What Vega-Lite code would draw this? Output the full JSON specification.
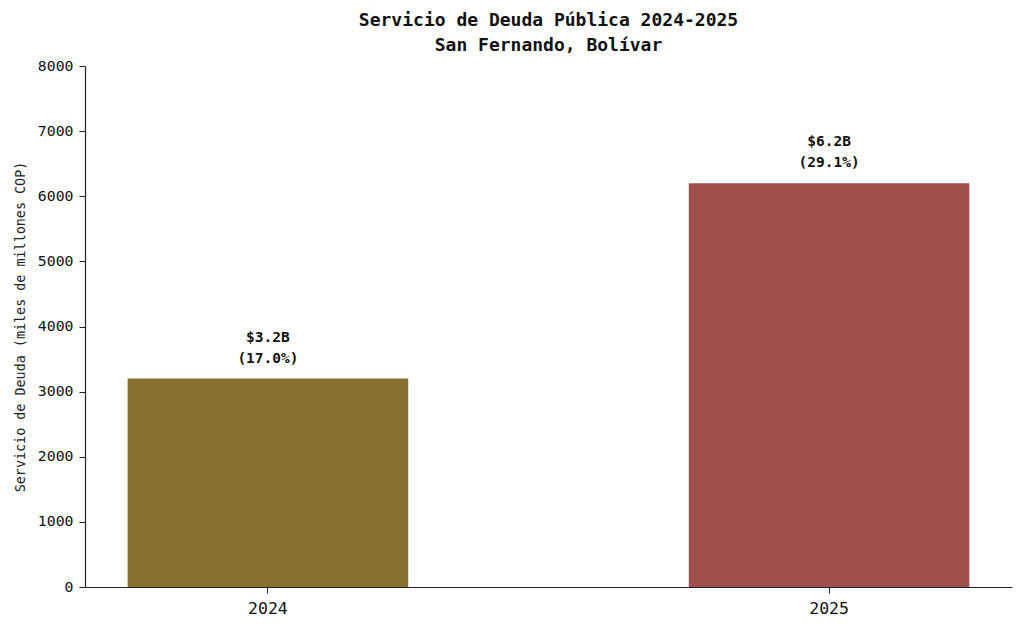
{
  "$schema": "https://vega.github.io/schema/vega-lite/v6.json",
  "autosize": "none",
  "padding": {"left": 85, "top": 66, "right": 12, "bottom": 47},
  "width": 927,
  "height": 521,
  "background": "white",
  "config": {
    "font": "DejaVu Sans Mono",
    "view": {"stroke": null},
    "axis": {"domainColor": "#222222", "tickColor": "#222222", "labelColor": "#111111", "titleColor": "#222222", "grid": false}
  },
  "title": {
    "text": ["Servicio de Deuda Pública 2024-2025", "San Fernando, Bolívar"],
    "fontSize": 18,
    "fontWeight": "bold",
    "font": "DejaVu Sans Mono",
    "color": "#111111",
    "anchor": "middle",
    "lineHeight": 25,
    "offset": 3
  },
  "data": {
    "values": [
      {"anio": "2024", "servicio": 3200, "etiqueta": "$3.2B\n(17.0%)"},
      {"anio": "2025", "servicio": 6200, "etiqueta": "$6.2B\n(29.1%)"}
    ]
  },
  "encoding": {
    "x": {
      "field": "anio",
      "type": "nominal",
      "title": null,
      "scale": {"paddingInner": 0.5, "paddingOuter": 0.076},
      "axis": {"labelAngle": 0, "labelFontSize": 16.5, "tickSize": 6, "labelPadding": 7, "domainWidth": 1.2}
    },
    "y": {
      "field": "servicio",
      "type": "quantitative",
      "title": "Servicio de Deuda (miles de millones COP)",
      "scale": {"domain": [0, 8000], "nice": false},
      "axis": {"values": [0, 1000, 2000, 3000, 4000, 5000, 6000, 7000, 8000], "format": "d", "labelFontSize": 14.8, "titleFontSize": 13.4, "titleFontWeight": "normal", "tickSize": 6, "labelPadding": 6, "titlePadding": 10, "domainWidth": 1.2}
    }
  },
  "layer": [
    {
      "mark": {"type": "bar"},
      "encoding": {
        "color": {
          "field": "anio",
          "type": "nominal",
          "scale": {"domain": ["2024", "2025"], "range": ["#85702F", "#A0504C"]},
          "legend": null
        }
      }
    },
    {
      "mark": {"type": "text", "baseline": "bottom", "dy": -34, "fontSize": 14.5, "fontWeight": "bold", "lineBreak": "\n", "lineHeight": 21, "color": "#111111"},
      "encoding": {"text": {"field": "etiqueta"}}
    }
  ]
}
